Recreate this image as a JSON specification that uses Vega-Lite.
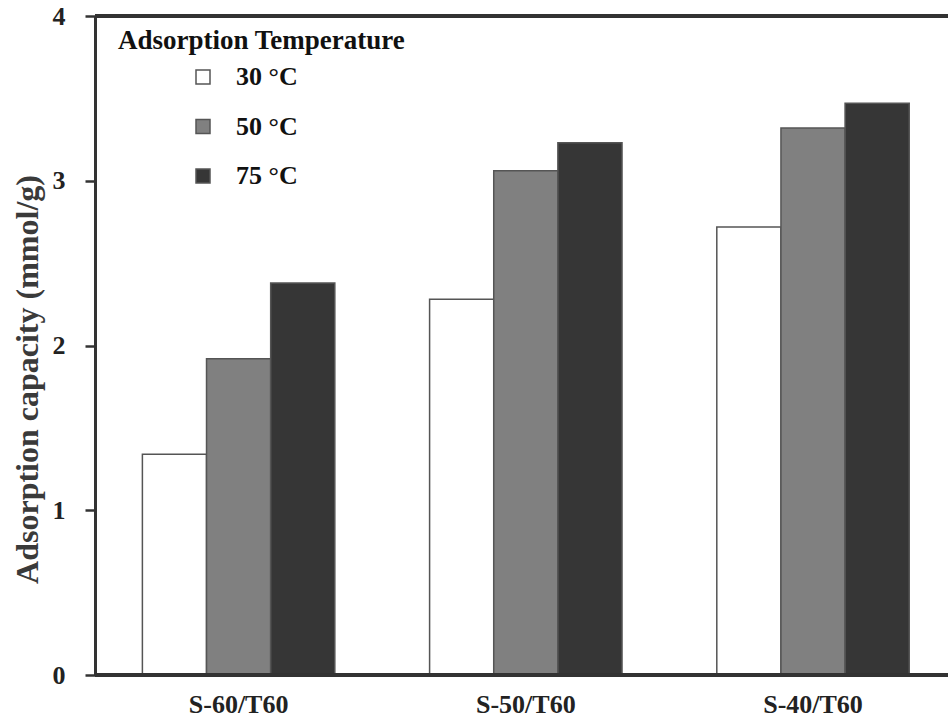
{
  "$schema": "https://vega.github.io/schema/vega-lite/v6.json",
  "width": 853,
  "height": 659,
  "autosize": {"type": "none"},
  "padding": {"left": 95, "top": 16, "right": 0, "bottom": 44},
  "background": "white",
  "config": {
    "view": {"stroke": null},
    "font": "Liberation Serif"
  },
  "data": {
    "values": [
      {"sample": "S-60/T60", "temp": "30 °C", "capacity": 1.34},
      {"sample": "S-60/T60", "temp": "50 °C", "capacity": 1.92},
      {"sample": "S-60/T60", "temp": "75 °C", "capacity": 2.38},
      {"sample": "S-50/T60", "temp": "30 °C", "capacity": 2.28},
      {"sample": "S-50/T60", "temp": "50 °C", "capacity": 3.06},
      {"sample": "S-50/T60", "temp": "75 °C", "capacity": 3.23},
      {"sample": "S-40/T60", "temp": "30 °C", "capacity": 2.72},
      {"sample": "S-40/T60", "temp": "50 °C", "capacity": 3.32},
      {"sample": "S-40/T60", "temp": "75 °C", "capacity": 3.47}
    ]
  },
  "layer": [
    {
      "mark": {"type": "bar", "stroke": "#555555", "strokeWidth": 1.5},
      "encoding": {
        "x": {
          "field": "sample",
          "type": "nominal",
          "sort": ["S-60/T60", "S-50/T60", "S-40/T60"],
          "scale": {"paddingInner": 0.33, "paddingOuter": 0.15, "align": 0.55},
          "axis": {
            "title": null,
            "labelAngle": 0,
            "labelFont": "Liberation Serif",
            "labelFontSize": 26,
            "labelFontWeight": "bold",
            "labelColor": "#222222",
            "labelPadding": 16,
            "ticks": false,
            "domain": false
          }
        },
        "xOffset": {
          "field": "temp",
          "type": "nominal",
          "sort": ["30 °C", "50 °C", "75 °C"],
          "scale": {"paddingInner": 0, "paddingOuter": 0}
        },
        "y": {
          "field": "capacity",
          "type": "quantitative",
          "scale": {"domain": [0, 4], "nice": false},
          "axis": {
            "title": "Adsorption capacity (mmol/g)",
            "titleFont": "Liberation Serif",
            "titleFontSize": 32,
            "titleFontWeight": "bold",
            "titleColor": "#3a3a3a",
            "titleX": -68,
            "titleY": 363,
            "titleBaseline": "middle",
            "titleAngle": -90,
            "values": [0, 1, 2, 3, 4],
            "format": "d",
            "labelFont": "Liberation Serif",
            "labelFontSize": 26,
            "labelFontWeight": "bold",
            "labelColor": "#222222",
            "labelPadding": 20,
            "tickSize": 10,
            "tickWidth": 2.5,
            "tickColor": "#333333",
            "domainColor": "#333333",
            "domainWidth": 3,
            "grid": false
          }
        },
        "color": {
          "field": "temp",
          "type": "nominal",
          "sort": ["30 °C", "50 °C", "75 °C"],
          "scale": {"range": ["#ffffff", "#808080", "#363636"]},
          "legend": {
            "title": "Adsorption Temperature",
            "orient": "none",
            "legendX": 23,
            "legendY": 12,
            "titleFont": "Liberation Serif",
            "titleFontSize": 27,
            "titleFontWeight": "bold",
            "titleColor": "#111111",
            "titleLimit": 600,
            "titlePadding": 9,
            "labelFont": "Liberation Serif",
            "labelFontSize": 26,
            "labelFontWeight": "bold",
            "labelColor": "#111111",
            "labelLimit": 300,
            "symbolType": "square",
            "symbolSize": 196,
            "symbolStrokeColor": "#555555",
            "symbolStrokeWidth": 1.5,
            "symbolOpacity": 1,
            "symbolOffset": 72,
            "labelOffset": 20,
            "rowPadding": 23.5
          }
        }
      }
    },
    {
      "mark": {"type": "rule", "stroke": "#333333", "strokeWidth": 3},
      "encoding": {"y": {"datum": 4}}
    },
    {
      "mark": {"type": "rule", "stroke": "#333333", "strokeWidth": 3},
      "encoding": {"y": {"datum": 0}}
    }
  ]
}
